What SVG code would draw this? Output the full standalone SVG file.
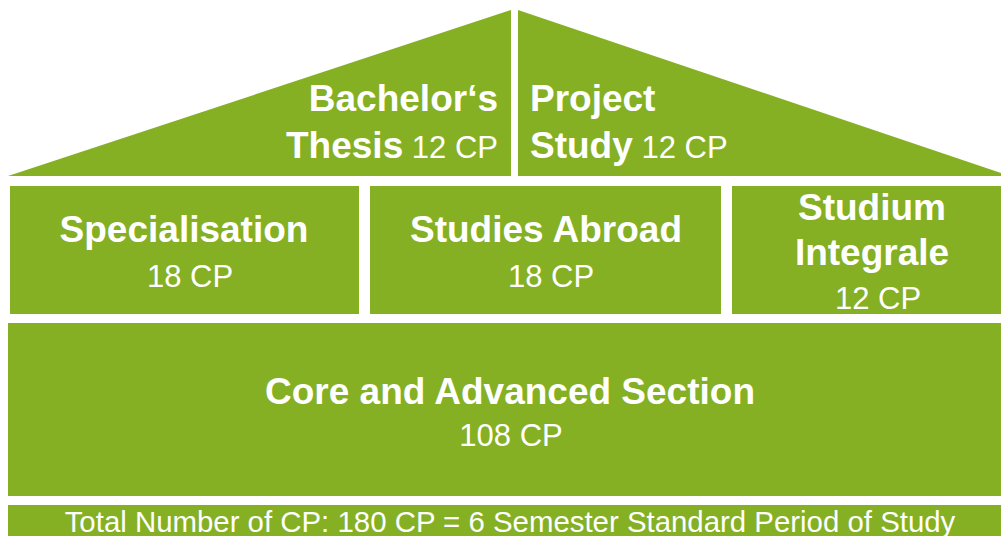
<svg xmlns="http://www.w3.org/2000/svg" width="1001" height="536" viewBox="0 0 1001 536">
<style>
.blk{fill:#85B023}
text{font-family:"Liberation Sans",Arial,sans-serif;fill:#fff}
.b{font-weight:bold;font-size:37px}
.r{font-size:31px}
.c{text-anchor:middle}
</style>
<rect width="1001" height="536" fill="#fff"/>
<g id="thesis">
<polygon class="blk" points="8,176 511,10 511,176"/>
<text class="b" x="498" y="111" text-anchor="end">Bachelor‘s</text>
<text x="498" y="158" text-anchor="end"><tspan class="b">Thesis</tspan><tspan class="r"> 12 CP</tspan></text>
</g>
<g id="project">
<polygon class="blk" points="518,10 1001,173 1001,176 518,176"/>
<text class="b" x="530" y="111">Project</text>
<text x="530" y="158"><tspan class="b">Study</tspan><tspan class="r"> 12 CP</tspan></text>
</g>
<g id="specialisation">
<rect class="blk" x="10" y="186" width="349" height="128"/>
<text class="b c" x="184" y="242">Specialisation</text>
<text class="r c" x="190" y="287">18 CP</text>
</g>
<g id="abroad">
<rect class="blk" x="370" y="186" width="351" height="128"/>
<text class="b c" x="546" y="242">Studies Abroad</text>
<text class="r c" x="551" y="287">18 CP</text>
</g>
<g id="integrale">
<rect class="blk" x="732" y="186" width="269" height="128"/>
<text class="b c" x="872" y="220">Studium</text>
<text class="b c" x="872" y="265">Integrale</text>
<text class="r c" x="878" y="309">12 CP</text>
</g>
<g id="core">
<rect class="blk" x="8" y="323" width="993" height="173"/>
<text class="b c" x="510" y="404">Core and Advanced Section</text>
<text class="r c" x="511" y="446">108 CP</text>
</g>
<g id="total">
<rect class="blk" x="8" y="505" width="993" height="31"/>
<text class="c" x="510" y="532" font-size="29.4">Total Number of CP: 180 CP = 6 Semester Standard Period of Study</text>
</g>
<g id="connectors"/>
</svg>
